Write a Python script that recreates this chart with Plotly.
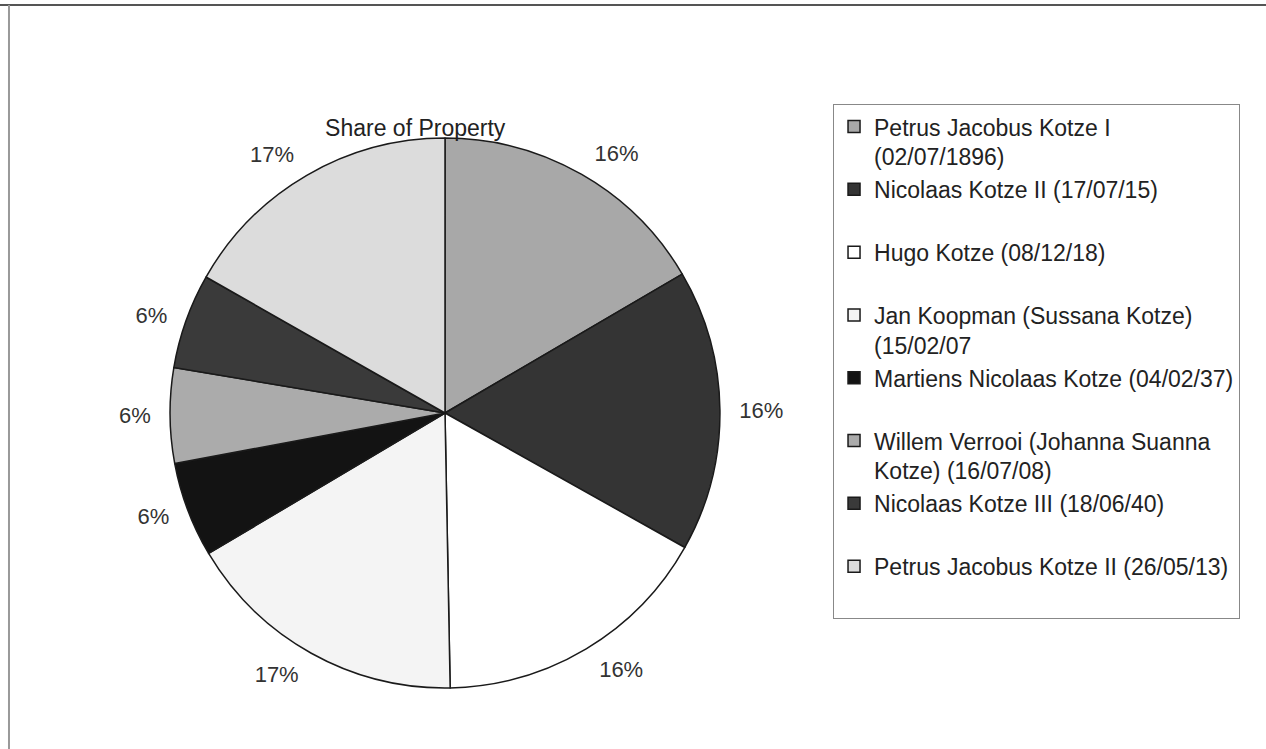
import plotly.graph_objects as go

names = [
    "Petrus Jacobus Kotze I<br>(02/07/1896)",
    "Nicolaas Kotze II (17/07/15)<br> ",
    "Hugo Kotze (08/12/18)<br> ",
    "Jan Koopman (Sussana Kotze)<br>(15/02/07",
    "Martiens Nicolaas Kotze (04/02/37)<br> ",
    "Willem Verrooi (Johanna Suanna<br>Kotze) (16/07/08)",
    "Nicolaas Kotze III (18/06/40)<br> ",
    "Petrus Jacobus Kotze II (26/05/13)<br> ",
]
shares = [16.6, 16.6, 16.6, 16.8, 5.6, 5.6, 5.6, 16.8]
pct_labels = ["16%", "16%", "16%", "17%", "6%", "6%", "6%", "17%"]
colors = ["#a8a8a8", "#343434", "#ffffff", "#f4f4f4", "#131313", "#ababab", "#3a3a3a", "#dcdcdc"]

FONT = "Liberation Sans, Arial, sans-serif"
CX, CY = 0.3515, 0.4486

fig = go.Figure()
# invisible outer ring that only carries the percentage labels (placed a bit off the pie edge)
fig.add_trace(go.Pie(
    labels=names,
    values=shares,
    text=pct_labels,
    textinfo="text",
    textposition="outside",
    sort=False,
    direction="clockwise",
    rotation=0,
    marker=dict(colors=["rgba(0,0,0,0)"] * len(shares), line=dict(width=0)),
    outsidetextfont=dict(family=FONT, size=22, color="#333333"),
    domain=dict(x=[CX - 0.2275, CX + 0.2275], y=[CY - 0.3845, CY + 0.3845]),
    showlegend=False,
    hoverinfo="skip",
))
fig.add_trace(go.Pie(
    labels=names,
    values=shares,
    textinfo="none",
    sort=False,
    direction="clockwise",
    rotation=0,
    marker=dict(colors=colors, line=dict(color="#1a1a1a", width=1.5)),
    domain=dict(x=[CX - 0.2172, CX + 0.2172], y=[CY - 0.3671, CY + 0.3671]),
    hoverinfo="label+percent",
))

fig.update_layout(
    width=1266, height=749,
    margin=dict(l=0, r=0, t=0, b=0),
    paper_bgcolor="white",
    plot_bgcolor="white",
    font=dict(family=FONT, size=23, color="#222222"),
    title=dict(text="Share of Property", x=0.328, y=0.829, xanchor="center", yanchor="middle",
               font=dict(family=FONT, size=23, color="#222222")),
    showlegend=True,
    legend=dict(
        x=0.658, y=0.861, xanchor="left", yanchor="top",
        bordercolor="#888888", borderwidth=1,
        bgcolor="white",
        valign="top",
        font=dict(family=FONT, size=23, color="#222222"),
        traceorder="normal",
    ),
    shapes=[
        dict(type="line", xref="paper", yref="paper", x0=0, x1=1, y0=0.9933, y1=0.9933,
             line=dict(color="#555555", width=2)),
        dict(type="line", xref="paper", yref="paper", x0=0.0071, x1=0.0071, y0=0, y1=0.9933,
             line=dict(color="#999999", width=2)),
    ],
)

fig.write_html("out.html")
